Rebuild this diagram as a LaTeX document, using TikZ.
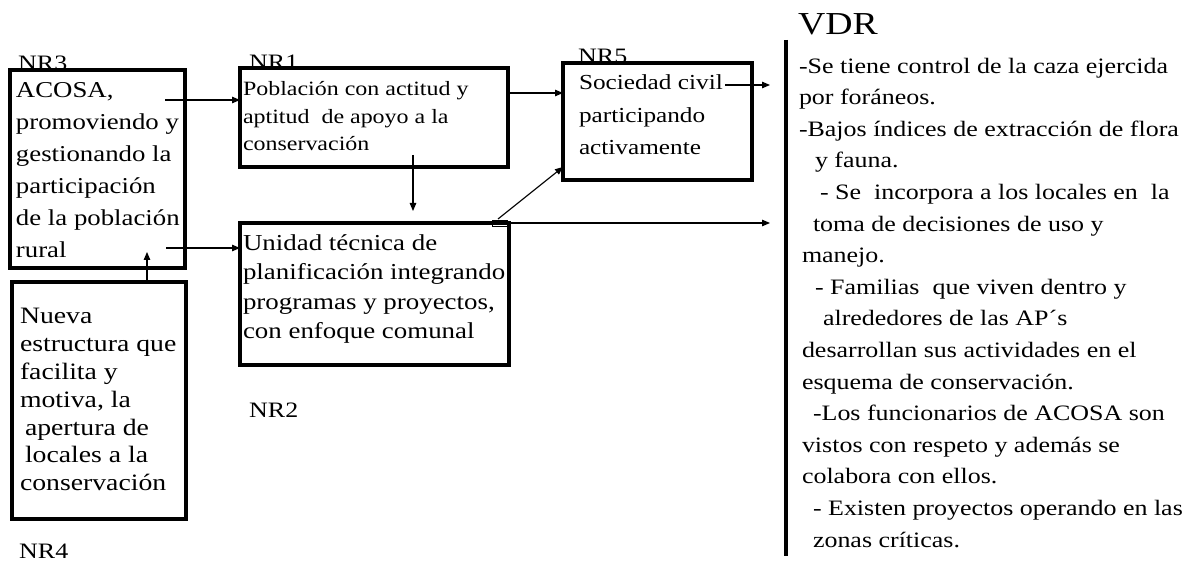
\documentclass[tikz,border=0pt]{standalone}
\usepackage{fontspec}
\setmainfont{Liberation Serif}[FakeStretch=1.18]
\usetikzlibrary{arrows.meta}
\newcommand\setfs[2]{\fontsize{#1}{#2}\selectfont}
\tikzset{
  boxn/.style={draw, line width=3.2pt, inner sep=0pt, outer sep=0pt, anchor=north west},
  txt/.style={inner sep=0pt, outer sep=0pt, anchor=north west, align=left},
  conn/.style={line width=1.1pt, -{Triangle[length=8pt,width=6.5pt]}},
  lbl/.style={inner sep=0pt, anchor=base west, font=\setfs{22}{26}},
}
\begin{document}
\begin{tikzpicture}[x=1pt,y=-1pt]
\useasboundingbox (0,0) rectangle (1199,561);
% labels
\node[lbl] (l3) at (18,71) {NR3};
\node[lbl] (l1) at (249,70) {NR1};
\node[lbl] (l5) at (578,64) {NR5};
\node[lbl] (l2) at (249,417) {NR2};
\node[lbl] (l4) at (19,558) {NR4};
% boxes
\node[boxn, minimum width=175pt, minimum height=198pt] (nr3) at (10,70) {};
\node[boxn, minimum width=268pt, minimum height=99pt] (nr1) at (240,68) {};
\node[boxn, minimum width=269pt, minimum height=142pt] (nr2) at (240,223) {};
\node[boxn, minimum width=189pt, minimum height=117pt] (nr5) at (563,63) {};
\node[boxn, minimum width=174pt, minimum height=237pt] (nr4) at (12,282) {};
% texts
\node[txt, font=\setfs{22.7}{32}] (t3) at (16,75.6) {\strut ACOSA,\\promoviendo y\\gestionando la\\participación\\de la población\\rural};
\node[txt, font=\setfs{20.3}{27.5}] (t1) at (243,76.75) {\strut Población con actitud y\\aptitud~ de apoyo a la\\conservación};
\node[txt, font=\setfs{22.8}{29.5}] (t2) at (243,229.35) {\strut Unidad técnica de\\planificación integrando\\programas y proyectos,\\con enfoque comunal};
\node[txt, font=\setfs{21.4}{32.5}] (t5) at (579,67.25) {\strut Sociedad civil\\participando\\activamente};
\node[txt, font=\setfs{23.5}{27.8}] (t4) at (20,304.5) {\strut Nueva\\estructura que\\facilita y\\motiva, la\\\hspace*{5pt}apertura de\\\hspace*{5pt}locales a la\\conservación};
% VDR
\node[inner sep=0pt, anchor=base west, font=\setfs{32}{36}] (vdr) at (798,35) {VDR};
\draw[line width=3.5pt] (786,40) -- (786,556);
\node[txt, font=\setfs{22}{31.6}] (list) at (799,50.9) {\strut -Se tiene control de la caza ejercida\\
por foráneos.\\
-Bajos índices de extracción de flora\\
\hspace*{16pt}y fauna.\\
\hspace*{21pt}- Se~ incorpora a los locales en~ la\\
\hspace*{14pt}toma de decisiones de uso y\\
\hspace*{3pt}manejo.\\
\hspace*{16pt}- Familias~ que viven dentro y\\
\hspace*{24pt}alrededores de las AP´s\\
\hspace*{3pt}desarrollan sus actividades en el\\
\hspace*{3pt}esquema de conservación.\\
\hspace*{14pt}-Los funcionarios de ACOSA son\\
\hspace*{3pt}vistos con respeto y además se\\
\hspace*{3pt}colabora con ellos.\\
\hspace*{14pt}- Existen proyectos operando en las\\
\hspace*{14pt}zonas críticas.};
% connectors
\coordinate (s1) at (165,100);
\coordinate (s2) at (166,248);
\coordinate (t3a) at (147,252);
\coordinate (s4) at (508,93);
\coordinate (s5) at (413,155);
\coordinate (t5a) at (413,211);
\coordinate (s6) at (498,219);
\coordinate (t6) at (563,167);
\coordinate (t7) at (770,223);
\coordinate (s8) at (725,85);
\coordinate (t8) at (770,85);
\draw[conn] (s1) -- (s1 -| nr1.west);
\draw[conn] (s2) -- (s2 -| nr2.west);
\draw[conn] (t3a |- nr4.north) -- (t3a);
\draw[conn] (s4 -| nr1.east) -- (s4 -| nr5.west);
\draw[conn] (s5) -- (t5a);
\draw[conn] (s6) -- (t6);
\draw[conn] (nr2.north east) -- (t7);
\draw[conn] (s8) -- (t8);
\draw[line width=0.8pt] (492,220) rectangle (507,226);
\end{tikzpicture}
\end{document}
